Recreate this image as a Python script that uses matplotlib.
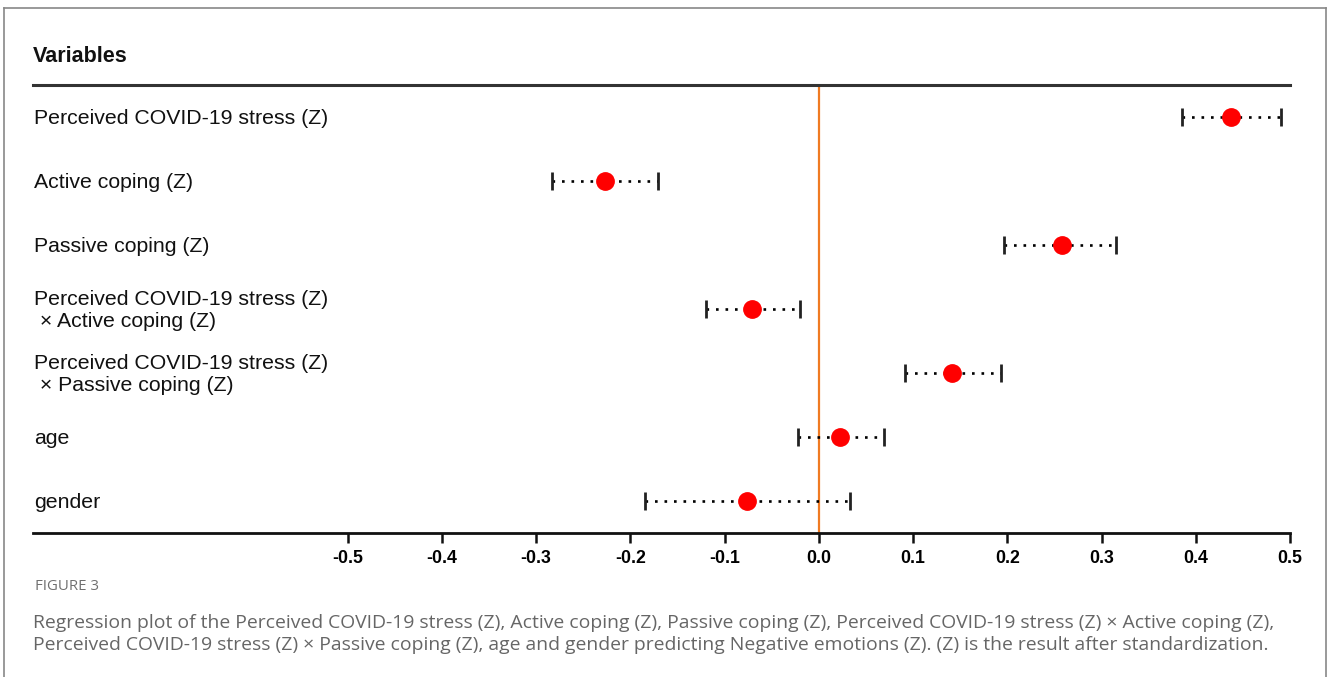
import matplotlib
matplotlib.use("Agg")
import matplotlib.pyplot as plt
import matplotlib.transforms as mtransforms
from matplotlib.lines import Line2D

# ---- data ----
variables = [
    "Perceived COVID-19 stress (Z)",
    "Active coping (Z)",
    "Passive coping (Z)",
    "Perceived COVID-19 stress (Z)\n × Active coping (Z)",
    "Perceived COVID-19 stress (Z)\n × Passive coping (Z)",
    "age",
    "gender",
]
estimates = [0.437, -0.227, 0.258, -0.071, 0.141, 0.022, -0.076]
ci_low = [0.385, -0.283, 0.197, -0.120, 0.091, -0.022, -0.184]
ci_high = [0.490, -0.171, 0.315, -0.020, 0.193, 0.069, 0.033]
tick_values = [-0.5, -0.4, -0.3, -0.2, -0.1, 0.0, 0.1, 0.2, 0.3, 0.4, 0.5]
tick_labels = ["-0.5", "-0.4", "-0.3", "-0.2", "-0.1", "0.0", "0.1", "0.2", "0.3", "0.4", "0.5"]
header = "Variables"
fig_label = "FIGURE 3"
caption = ("Regression plot of the Perceived COVID-19 stress (Z), Active coping (Z), Passive coping (Z), "
           "Perceived COVID-19 stress (Z) \u00d7 Active coping (Z),\n"
           "Perceived COVID-19 stress (Z) \u00d7 Passive coping (Z), age and gender predicting "
           "Negative emotions (Z). (Z) is the result after standardization.")

plt.rcParams['font.family'] = ['Liberation Sans', 'DejaVu Sans']

W, H = 1328, 677
fig = plt.figure(figsize=(W / 100, H / 100), dpi=100)
left, right, top, bottom = 33, 1290, 85, 533
ax = fig.add_axes([left / W, 1 - bottom / H, (right - left) / W, (bottom - top) / H])

ax.set_xlim(-0.834, 0.5)
ypos = list(range(len(variables)))
ax.set_ylim(len(variables) - 0.5, -0.5)

# zero line
ax.axvline(0, color="#f07a22", lw=1.6, zorder=1)

# CI dotted lines
ax.hlines(ypos, ci_low, ci_high, colors="black", linestyles=(0, (1, 2.6)), lw=1.9, zorder=2)
ax.plot(ci_low, ypos, ls="none", marker="|", ms=13, mew=2, color="#222222", zorder=3)
ax.plot(ci_high, ypos, ls="none", marker="|", ms=13, mew=2, color="#222222", zorder=3)
ax.plot(estimates, ypos, ls="none", marker="o", ms=12.5, color="#ff0000", mec="#ff0000", zorder=4)

# labels
trans = mtransforms.blended_transform_factory(ax.transAxes, ax.transData)
for y, lab in zip(ypos, variables):
    ax.text(0.001, y + 0.03, lab, transform=trans, ha="left", va="center", fontsize=15.3,
            linespacing=1.2, color="#111111")

ax.text(0.0, 1 + (85 - 57) / (bottom - top), header, transform=ax.transAxes, ha="left",
        va="center", fontsize=15.5, fontweight="bold", color="#111111")

# spines
for s in ["left", "right"]:
    ax.spines[s].set_visible(False)
ax.spines["top"].set_linewidth(2.2)
ax.spines["top"].set_color("#333333")
ax.spines["bottom"].set_linewidth(2.0)
ax.spines["bottom"].set_color("#111111")
ax.set_yticks([])
ax.set_xticks(tick_values)
ax.set_xticklabels(tick_labels, fontsize=12.8, fontweight="bold")
ax.tick_params(axis="x", length=7, width=1.8, pad=5, color="#111111")

# caption
fig.text(35 / W, 1 - 587 / H, fig_label, ha="left", va="center", fontsize=10.8,
         color="#707070", family=["Open Sans", "DejaVu Sans"])
fig.text(33 / W, 1 - 634 / H, caption, ha="left", va="center", fontsize=13.95,
         color="#666666", family=["Open Sans", "DejaVu Sans"], linespacing=1.25)

# frame border (open at bottom)
bc = "#888888"
fig.add_artist(Line2D([4 / W, 4 / W], [0, 1 - 8 / H], color=bc, lw=1.2))
fig.add_artist(Line2D([4 / W, 1326 / W], [1 - 8 / H, 1 - 8 / H], color=bc, lw=1.2))
fig.add_artist(Line2D([1326 / W, 1326 / W], [0, 1 - 8 / H], color=bc, lw=1.2))

fig.savefig("out.png", dpi=100)
